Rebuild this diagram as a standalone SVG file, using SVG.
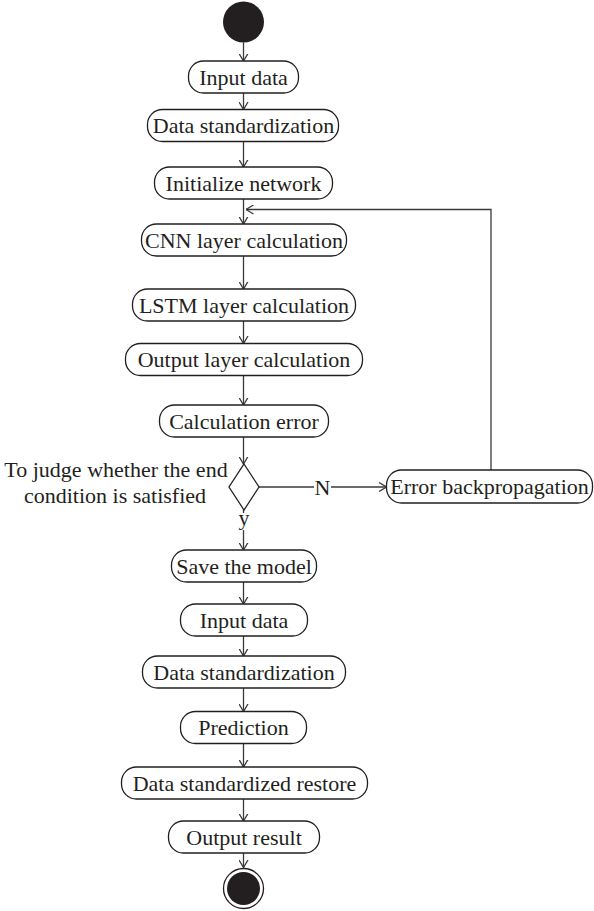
<svg xmlns="http://www.w3.org/2000/svg" width="594" height="911" viewBox="0 0 594 911">
<defs>
<style>
.box{fill:#fff;stroke:#231f20;stroke-width:1.3}
.t{font-family:"Liberation Serif","Times New Roman",serif;font-size:22px;fill:#231f20;text-anchor:middle}
.c{fill:none;stroke:#3a3a3a;stroke-width:1.3}
.lbg{fill:#fff}
</style>
<marker id="ah" viewBox="0 0 8 10" refX="7.5" refY="5" markerWidth="8" markerHeight="10" markerUnits="userSpaceOnUse" orient="auto">
<path d="M0,0.5 L7.5,5 L0,9.5" fill="none" stroke="#3a3a3a" stroke-width="1.3"/>
</marker>
</defs>
<rect width="594" height="911" fill="#fff"/>

<g id="connectors">
<path class="c" marker-end="url(#ah)" d="M243.5,42.5 V61"/>
<path class="c" marker-end="url(#ah)" d="M243.5,93 V109.5"/>
<path class="c" marker-end="url(#ah)" d="M243.5,141.5 V167"/>
<path class="c" marker-end="url(#ah)" d="M243.5,199 V224"/>
<path class="c" marker-end="url(#ah)" d="M243.5,256 V289"/>
<path class="c" marker-end="url(#ah)" d="M243.5,321 V343.5"/>
<path class="c" marker-end="url(#ah)" d="M243.5,375.5 V405"/>
<path class="c" marker-end="url(#ah)" d="M243.5,437 V464"/>
<path class="c" marker-end="url(#ah)" d="M259,487 H386.5"/>
<path class="c" marker-end="url(#ah)" d="M491,470 V209.5 H246"/>
<path class="c" marker-end="url(#ah)" d="M243.5,510 V550"/>
<path class="c" marker-end="url(#ah)" d="M243.5,582 V604"/>
<path class="c" marker-end="url(#ah)" d="M243.5,636 V656"/>
<path class="c" marker-end="url(#ah)" d="M243.5,688 V711.5"/>
<path class="c" marker-end="url(#ah)" d="M243.5,743.5 V767"/>
<path class="c" marker-end="url(#ah)" d="M243.5,799 V821"/>
<path class="c" marker-end="url(#ah)" d="M243.5,853 V867.5"/>
<g id="label-N"><rect class="lbg" x="314" y="478" width="17" height="18"/><text class="t" x="322.5" y="494.5">N</text></g>
<g id="label-y"><rect class="lbg" x="238" y="513" width="12" height="17"/><text class="t" x="244" y="525">y</text></g>
</g>

<g id="start"><circle cx="243.5" cy="22" r="20.5" fill="#231f20"/></g>

<g id="n-input1"><rect class="box" x="188.5" y="61" width="110" height="32" rx="15"/><text class="t" x="243.5" y="84.5">Input data</text></g>
<g id="n-std1"><rect class="box" x="147.5" y="109.5" width="191" height="32" rx="15"/><text class="t" x="243.5" y="133">Data standardization</text></g>
<g id="n-init"><rect class="box" x="154.5" y="167" width="178" height="32" rx="15"/><text class="t" x="243.5" y="190.5">Initialize network</text></g>
<g id="n-cnn"><rect class="box" x="141.5" y="224" width="205" height="32" rx="15"/><text class="t" x="244" y="247.5">CNN layer calculation</text></g>
<g id="n-lstm"><rect class="box" x="132.5" y="289" width="223" height="32" rx="15"/><text class="t" x="244" y="312.5">LSTM layer calculation</text></g>
<g id="n-output"><rect class="box" x="125.5" y="343.5" width="237" height="32" rx="15"/><text class="t" x="244" y="367">Output layer calculation</text></g>
<g id="n-calcerr"><rect class="box" x="159.5" y="405" width="169" height="32" rx="15"/><text class="t" x="244" y="428.5">Calculation error</text></g>

<g id="n-decision">
<path d="M244,464 L259,487 L244,510 L229,487 Z" fill="#fff" stroke="#231f20" stroke-width="1.3"/>
<text class="t" x="116" y="477">To judge whether the end</text>
<text class="t" x="115" y="503">condition is satisfied</text>
</g>

<g id="n-backprop"><rect class="box" x="386.5" y="470" width="206" height="33" rx="15"/><text class="t" x="489.5" y="494">Error backpropagation</text></g>

<g id="n-save"><rect class="box" x="171.5" y="550" width="145" height="32" rx="15"/><text class="t" x="244" y="573.5">Save the model</text></g>
<g id="n-input2"><rect class="box" x="180.5" y="604" width="127" height="32" rx="15"/><text class="t" x="244" y="627.5">Input data</text></g>
<g id="n-std2"><rect class="box" x="142.5" y="656" width="203" height="32" rx="15"/><text class="t" x="244" y="679.5">Data standardization</text></g>
<g id="n-predict"><rect class="box" x="180.5" y="711.5" width="126" height="32" rx="15"/><text class="t" x="243.5" y="735">Prediction</text></g>
<g id="n-restore"><rect class="box" x="121.5" y="767" width="246" height="32" rx="15"/><text class="t" x="244.5" y="790.5">Data standardized restore</text></g>
<g id="n-result"><rect class="box" x="168.5" y="821" width="151" height="32" rx="15"/><text class="t" x="244" y="844.5">Output result</text></g>

<g id="end"><circle cx="243.5" cy="888.5" r="20" fill="#fff" stroke="#231f20" stroke-width="1.3"/><circle cx="243.5" cy="888.5" r="16.5" fill="#231f20"/></g>
</svg>
